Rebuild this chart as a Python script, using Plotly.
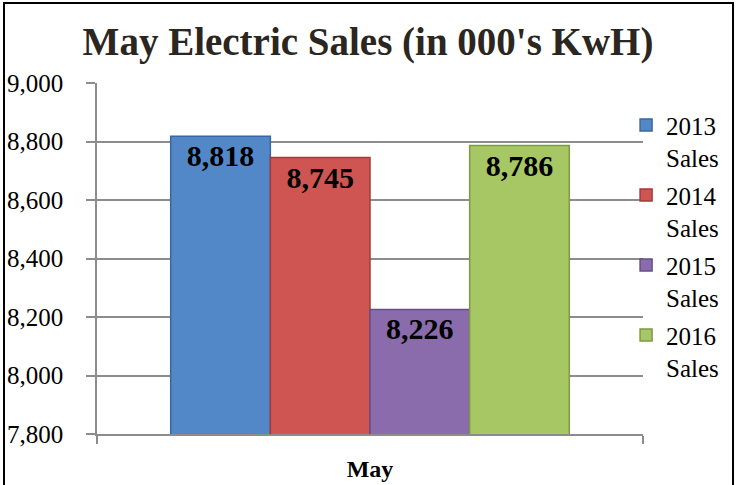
import plotly.graph_objects as go

categories = ["May"]
series_names = ["2013<br>Sales", "2014<br>Sales", "2015<br>Sales", "2016<br>Sales"]
series_values = [[8818], [8745], [8226], [8786]]
colors = ["#5388c8", "#cf5552", "#8a6cad", "#a6c764"]
edge_colors = ["#3a679f", "#a23b39", "#664d86", "#7c9a44"]
y_ticks = [7800, 8000, 8200, 8400, 8600, 8800, 9000]

SERIF = "Liberation Serif, Times New Roman, Tinos, serif"
W, H = 736, 485
ML, MR, MT, MB = 97, 93, 83, 51

fig = go.Figure()
for i, (name, vals, c, ec) in enumerate(zip(series_names, series_values, colors, edge_colors)):
    fig.add_trace(go.Bar(
        x=categories, y=vals, name=name, legendgroup=str(i),
        marker=dict(color=c, line=dict(color=ec, width=1.5)),
        texttemplate="%{y:,.0f}", textposition="inside", insidetextanchor="end",
        textangle=0,
        textfont=dict(family=SERIF, size=30, color="black", weight="bold"),
    ))

grid = "#8c8c8c"
fig.update_layout(
    width=W, height=H,
    margin=dict(l=ML, r=MR, t=MT, b=MB, autoexpand=False),
    paper_bgcolor="white", plot_bgcolor="white",
    barmode="group", bargap=0.27, bargroupgap=0,
    title=dict(text="<b>May Electric Sales (in 000's KwH)</b>",
               font=dict(family=SERIF, size=39, color="#2b2620"),
               x=0.5, xanchor="center", y=0.915, yanchor="middle", yref="container"),
    font=dict(family=SERIF, color="black"),
    legend=dict(x=0.969, xanchor="left", y=0.945, yanchor="top",
                font=dict(family=SERIF, size=25, color="black"),
                bgcolor="rgba(0,0,0,0)", valign="top", tracegroupgap=2),
    xaxis=dict(showline=True, linecolor=grid, linewidth=1.5, automargin=False,
               ticks="outside", tickson="boundaries", ticklen=8, tickcolor=grid, tickwidth=1.5,
               tickfont=dict(family=SERIF, size=24, color="black", weight="bold"),
               ticklabelstandoff=12, showgrid=False),
    yaxis=dict(range=[7800, 9000], tickvals=y_ticks, tickformat=",", automargin=False,
               showline=True, linecolor=grid, linewidth=1.5,
               showgrid=True, gridcolor=grid, gridwidth=1.5,
               ticks="outside", ticklen=9, tickcolor=grid, tickwidth=1.5,
               tickfont=dict(family=SERIF, size=25, color="black", weight="normal"),
               ticklabelstandoff=18, zeroline=False),
    showlegend=True,
)

pw = W - ML - MR
ph = H - MT - MB
fig.add_shape(type="rect", xref="paper", yref="paper",
              x0=(4 - ML) / pw, x1=(733 - ML) / pw,
              y0=(H - 490 - MB) / ph, y1=(H - 3 - MB) / ph,
              line=dict(color="black", width=2), fillcolor="rgba(0,0,0,0)", layer="above")

fig.write_html("out.html", config={"displayModeBar": False},
               post_script="document.body.style.margin='0';")
